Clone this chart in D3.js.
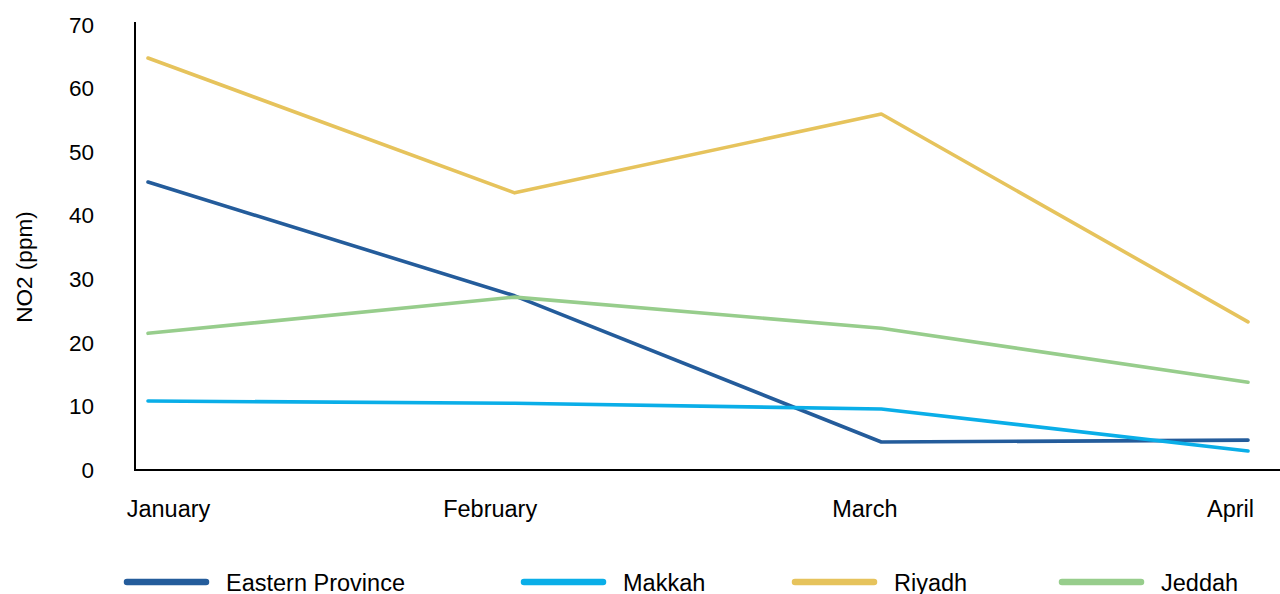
<!DOCTYPE html>
<html><head><meta charset="utf-8">
<script src="https://cdn.jsdelivr.net/npm/d3@7"></script>
<style>body{margin:0;background:#fff;} text{font-family:"Liberation Sans",Arial,sans-serif;fill:#000;}</style>
</head><body><svg id="c" width="1280" height="594"></svg>
<script>
const months = ["January","February","March","April"];
const easternProvince = [45.3, 27.4, 4.4, 4.7];
const makkah = [10.85, 10.5, 9.6, 3.0];
const riyadh = [64.8, 43.6, 56.0, 23.3];
const jeddah = [21.5, 27.2, 22.3, 13.8];
const seriesNames = ["Eastern Province","Makkah","Riyadh","Jeddah"];
const seriesColors = ["#245C9B","#0AAEE8","#E6C35C","#97CD8C"];
const yTicks = [0,10,20,30,40,50,60,70];

const series = [easternProvince, makkah, riyadh, jeddah];
const svg = d3.select("#c");
const x = d3.scalePoint().domain(months).range([148, 1248]);
const y = d3.scaleLinear().domain([0,70]).range([470, 25]);

svg.append("line").attr("x1",135).attr("x2",135).attr("y1",22).attr("y2",471).attr("stroke","#000").attr("stroke-width",2);
svg.append("line").attr("x1",134).attr("x2",1280).attr("y1",470).attr("y2",470).attr("stroke","#000").attr("stroke-width",2);

const ya = svg.append("g").attr("transform","translate(94,0)")
  .call(d3.axisLeft(y).tickValues(yTicks).tickSize(0).tickPadding(0).tickFormat(d3.format("d")));
ya.select(".domain").remove();
ya.selectAll("text").attr("font-size",22.5).attr("font-family","Liberation Sans, Arial, sans-serif").attr("fill","#000");

const labelShift = [20,-25,-17,-18];
const xa = svg.append("g").attr("transform","translate(0,500)")
  .call(d3.axisBottom(x).tickSize(0).tickPadding(0));
xa.select(".domain").remove();
xa.selectAll("text").attr("font-size",23.5).attr("font-family","Liberation Sans, Arial, sans-serif").attr("fill","#000")
  .attr("dx",(d,i)=>labelShift[i]);

svg.append("text").attr("transform","translate(32,267) rotate(-90)").attr("text-anchor","middle")
  .attr("font-size",22.5).text("NO2 (ppm)");

const line = d3.line().x((d,i)=>x(months[i])).y(d=>y(d));
series.forEach((s,k)=>{
  svg.append("path").attr("d",line(s)).attr("fill","none").attr("stroke",seriesColors[k])
    .attr("stroke-width",3.6).attr("stroke-linecap","round").attr("stroke-linejoin","round");
});

const legX = [127, 524, 795, 1062];
const leg = svg.append("g");
seriesNames.forEach((n,k)=>{
  leg.append("line").attr("x1",legX[k]).attr("x2",legX[k]+79).attr("y1",582).attr("y2",582)
    .attr("stroke",seriesColors[k]).attr("stroke-width",6.5).attr("stroke-linecap","round");
  leg.append("text").attr("x",legX[k]+99).attr("y",591).attr("font-size",23.5).text(n);
});
</script></body></html>
